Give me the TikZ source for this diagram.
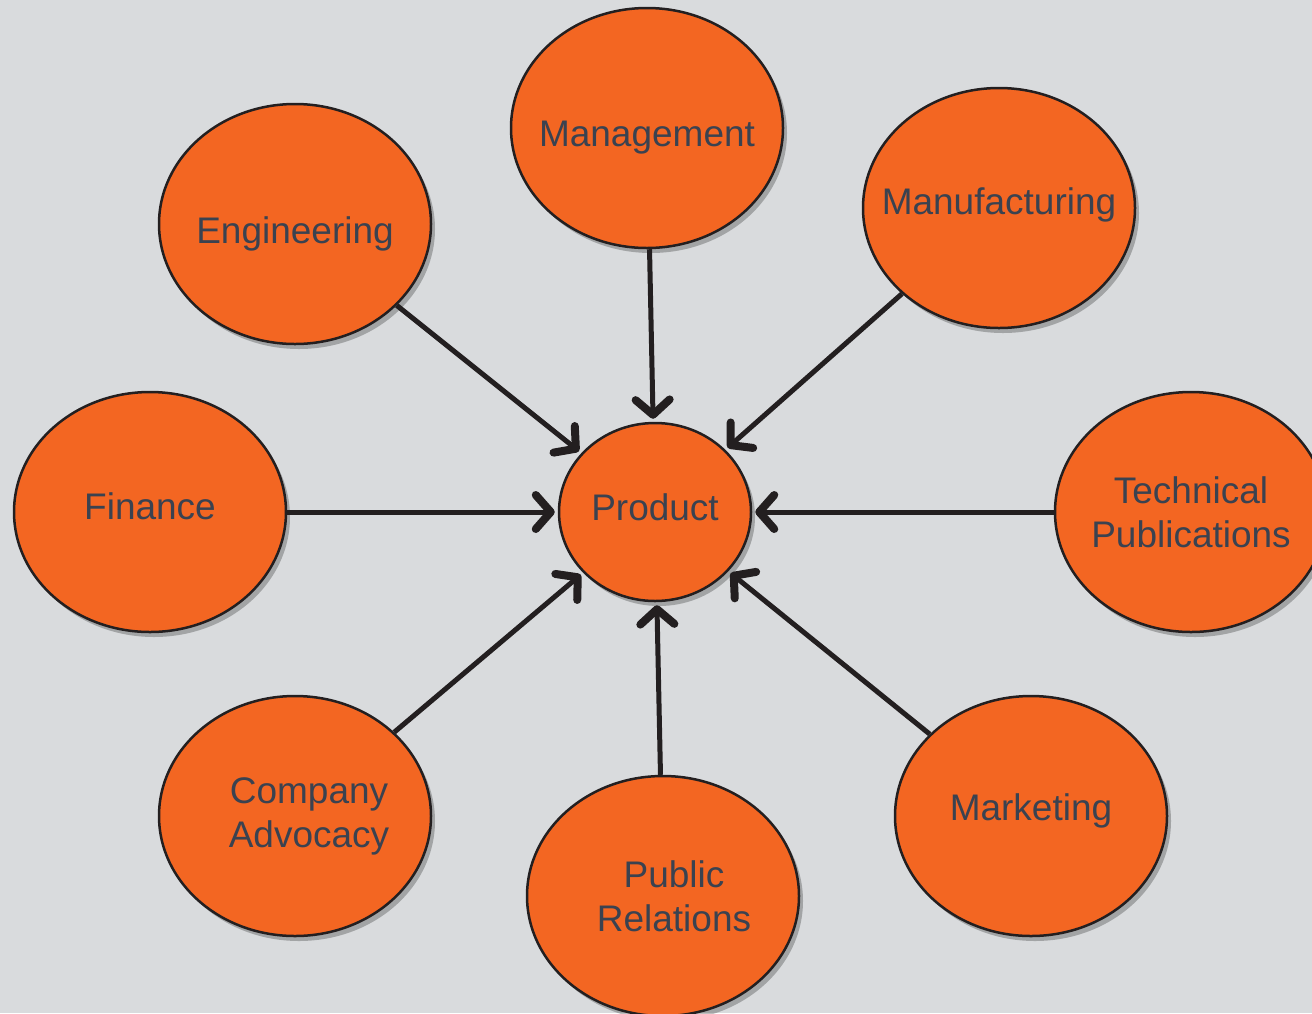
\documentclass[tikz,border=0pt]{standalone}
\usepackage{fontspec}
\setmainfont{Liberation Sans}
\usetikzlibrary{shapes.geometric,arrows.meta,shadows}
\newcommand{\lift}[2]{\raisebox{#1}[\height][\depth]{#2}}
\begin{document}
\begin{tikzpicture}[x=1pt,y=-1pt,
  dept/.style={ellipse,draw=lineColor,line width=2.5pt,fill=fillColor,
    minimum width=272pt,minimum height=240pt,inner xsep=-30pt,inner ysep=0pt,
    align=center,text=textColor,font=\fontsize{37}{44}\selectfont,
    drop shadow={shadow xshift=4pt,shadow yshift=-5pt,opacity=0.25,fill=black}},
  hub/.style={dept,minimum width=192pt,minimum height=178pt},
  feed/.style={draw=lineColor,line width=5pt,shorten >=3pt,
    -{Straight Barb[length=15pt,width=34pt,line width=8pt,round]}}]
\definecolor{backColor}{RGB}{217,219,221}
\definecolor{fillColor}{RGB}{243,102,34}
\definecolor{lineColor}{RGB}{35,31,32}
\definecolor{textColor}{RGB}{58,66,80}
\path[use as bounding box,fill=backColor] (0,0) rectangle (1312,1013);
\begin{scope}
\path[clip] (0,0) rectangle (1312,1013);

\node[hub] (prod) at (655,512) {\lift{5pt}{Product}};

\node[dept] (mgmt) at (647,128) {\lift{-10pt}{Management}};
\node[dept] (eng) at (295,224) {\lift{-10pt}{Engineering}};
\node[dept] (mfg) at (999,208) {\lift{3pt}{Manufacturing}};
\node[dept] (fin) at (150,512) {\lift{6pt}{Finance}};
\node[dept] (tech) at (1191,512) {Technical\\Publications};
\node[dept] (adv) at (295,816) {\hspace*{28pt}Company\\\hspace*{28pt}Advocacy};
\node[dept] (pr) at (663,896) {\hspace*{22pt}Public\\\hspace*{22pt}Relations};
\node[dept] (mkt) at (1031,816) {\lift{5pt}{Marketing}};

\draw[feed] (mgmt) -- (prod);
\draw[feed] (eng) -- (prod);
\draw[feed] (mfg) -- (prod);
\draw[feed] (fin) -- (prod);
\draw[feed] (tech) -- (prod);
\draw[feed] (adv) -- (prod);
\draw[feed] (pr) -- (prod);
\draw[feed] (mkt) -- (prod);
\end{scope}
\end{tikzpicture}
\end{document}
